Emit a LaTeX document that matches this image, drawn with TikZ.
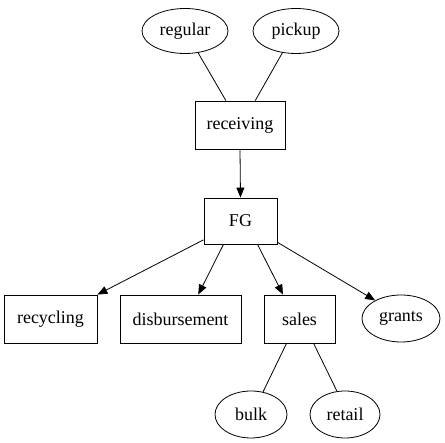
\documentclass[tikz,border=0pt]{standalone}
\usepackage{fontspec}
\setmainfont{Liberation Serif}
\usetikzlibrary{shapes.geometric,arrows.meta}

\tikzset{
  scatola/.style={draw, rectangle, minimum height=48pt, inner sep=0pt},
  ovale/.style={draw, ellipse, minimum width=86pt, minimum height=45pt, inner sep=0pt},
  freccia/.style={-{Triangle[length=10pt,width=8pt]}},
}

\begin{document}
\begin{tikzpicture}[x=1pt, y=-1pt, line width=0.8pt, font=\fontsize{18}{20}\selectfont]
		\useasboundingbox (0,0) rectangle (445,443);
		%\draw [help lines, step=50] (0,0) grid (445,443);
		%Ingressi
		\node [ovale] (regular) at (185,31) {regular};
		\node [ovale] (pickup) at (296,31) {pickup};
		\node [scatola, minimum width=90pt] (receiving) at (240,125) {receiving};
		\draw (regular.-59) -- (receiving.120);
		\draw (pickup.238) -- (receiving.58);
		%Magazzino
		\node [scatola, minimum width=73pt, minimum height=46pt] (FG) at (240.5,221) {FG};
		\draw [freccia] (receiving.south) -- (FG.north);
		%Uscite
		\node [scatola, minimum width=93pt] (recycling) at (50.5,319) {recycling};
		\node [scatola, minimum width=121pt] (disbursement) at (180.5,319) {disbursement};
		\node [scatola, minimum width=71pt] (sales) at (299.5,319) {sales};
		\node [ovale, minimum width=78pt, minimum height=47pt] (grants) at (401,318.5) {grants};
		\draw [freccia] (FG.207.5) -- (recycling.north east);
		\draw [freccia] (FG.234) -- (disbursement.54);
		\draw [freccia] (FG.306) -- (sales.124.5);
		\draw [freccia] (FG.-30) -- (grants.145);
		%Vendite
		\node [ovale, minimum width=72pt, minimum height=47pt] (bulk) at (251,414.5) {bulk};
		\node [ovale, minimum width=70pt, minimum height=47pt] (retail) at (345,414.5) {retail};
		\draw (sales.242.5) -- (bulk.62);
		\draw (sales.-60.6) -- (retail.109.6);
	\end{tikzpicture}
\end{document}
